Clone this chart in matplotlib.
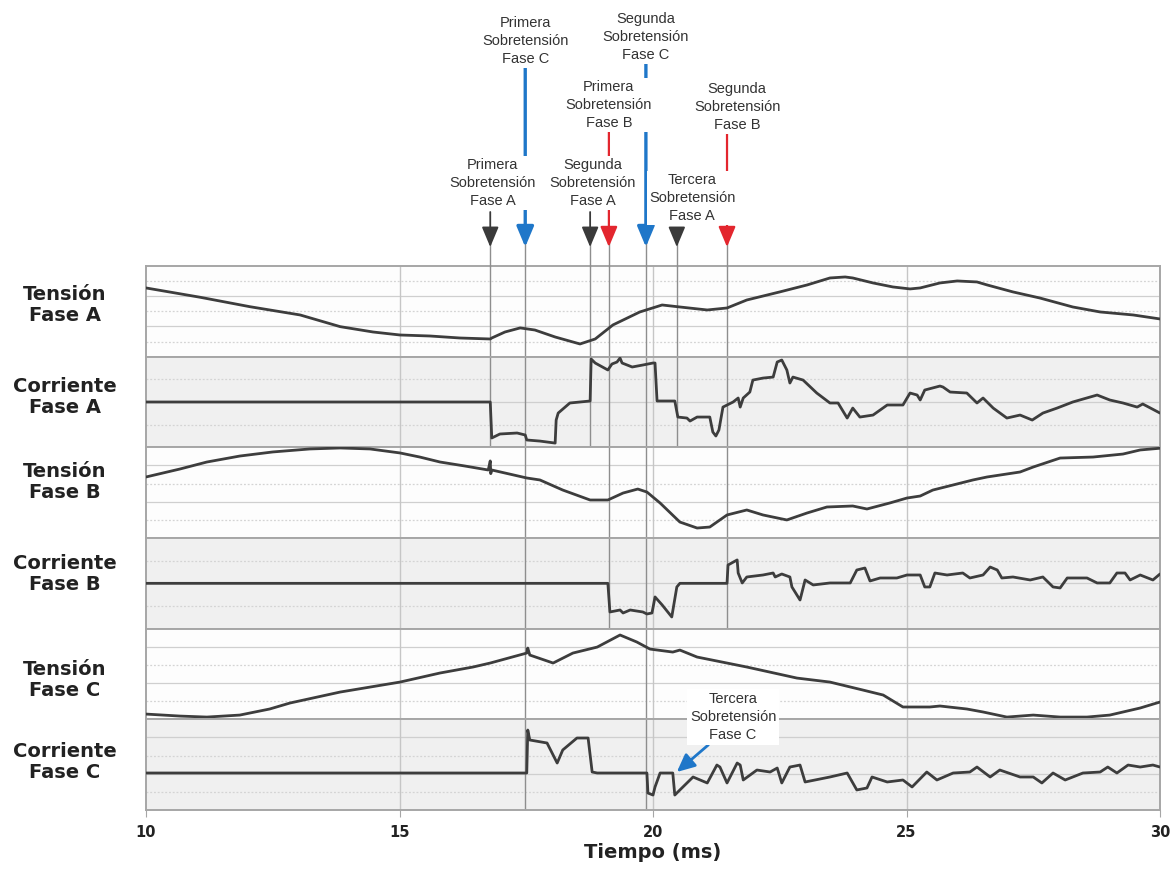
import matplotlib
matplotlib.use("Agg")
import matplotlib.pyplot as plt

# ---------------------------------------------------------------------------
# Oscillography of the three phases: time in ms, each trace given as its level
# inside its own band (0 = bottom of the band, 1 = top).
# ---------------------------------------------------------------------------
t_va = [10.00, 11.07, 12.05, 13.04, 13.83, 14.48, 15.01, 15.60, 16.19, 16.79,
        16.82, 17.08, 17.38,
        17.67, 18.07, 18.56, 18.86, 19.21, 19.74, 20.18, 20.53, 21.07, 21.46,
        21.85, 22.50, 23.04, 23.49, 23.79, 23.94, 24.34, 24.73, 25.07, 25.27,
        25.66, 26.00, 26.39, 26.59, 27.10, 27.63, 28.28, 28.82, 29.47, 30.00]
v_va = [0.758, 0.655, 0.551, 0.460, 0.331, 0.272, 0.239, 0.228, 0.206, 0.195,
        0.206, 0.272, 0.317,
        0.294, 0.217, 0.140, 0.195, 0.350, 0.493, 0.570, 0.548, 0.515, 0.537,
        0.625, 0.714, 0.791, 0.868, 0.879, 0.868, 0.813, 0.769, 0.747, 0.758,
        0.813, 0.835, 0.824, 0.791, 0.714, 0.647, 0.548, 0.493, 0.460, 0.416]

t_ia = [10.00, 16.79, 16.82, 16.98, 17.32, 17.48, 17.51, 17.77, 18.07, 18.09,
        18.13, 18.36, 18.76, 18.78, 18.86, 19.11, 19.19, 19.29, 19.35, 19.39,
        19.59, 19.80, 20.00, 20.04, 20.08, 20.43, 20.49, 20.67, 20.73, 20.87,
        21.12, 21.18, 21.24, 21.30, 21.38, 21.58, 21.68, 21.72, 21.78, 21.91,
        21.97, 22.17, 22.37, 22.45, 22.54, 22.64, 22.70, 22.76, 22.96, 23.23,
        23.49, 23.65, 23.83, 23.94, 24.08, 24.34, 24.62, 24.93, 25.07, 25.21,
        25.27, 25.36, 25.66, 25.72, 25.86, 26.19, 26.39, 26.51, 26.71, 26.98,
        27.24, 27.48, 27.69, 27.97, 28.28, 28.76, 29.01, 29.27, 29.55, 29.66,
        30.00]
i_ia = [0.500, 0.500, 0.103, 0.147, 0.158, 0.136, 0.081, 0.069, 0.047, 0.301,
        0.378, 0.489, 0.511, 0.974, 0.930, 0.853, 0.919, 0.941, 0.985, 0.930,
        0.886, 0.908, 0.930, 0.930, 0.511, 0.511, 0.334, 0.323, 0.290, 0.334,
        0.334, 0.169, 0.125, 0.191, 0.444, 0.500, 0.544, 0.444, 0.544, 0.610,
        0.742, 0.764, 0.775, 0.941, 0.963, 0.853, 0.709, 0.775, 0.742, 0.599,
        0.489, 0.489, 0.323, 0.433, 0.334, 0.356, 0.467, 0.467, 0.599, 0.577,
        0.522, 0.632, 0.676, 0.665, 0.610, 0.599, 0.489, 0.544, 0.433, 0.323,
        0.356, 0.301, 0.378, 0.433, 0.500, 0.577, 0.522, 0.489, 0.444, 0.478,
        0.378]

t_vb = [10.00, 10.67, 11.20, 11.85, 12.50, 13.23, 13.83, 14.42, 15.01, 15.40,
        15.80, 16.29, 16.75, 16.79, 16.80, 16.82,
        17.51, 17.77, 18.22, 18.76, 19.11, 19.41, 19.70, 19.88, 20.14, 20.53,
        20.87, 21.12, 21.46, 21.85, 22.17, 22.64, 23.04, 23.43, 23.94, 24.22,
        24.67, 25.01, 25.27, 25.52, 25.92, 26.31, 26.59, 27.24, 27.50, 28.03,
        28.68, 29.27, 29.61, 30.00]
v_vb = [0.673, 0.761, 0.838, 0.904, 0.949, 0.982, 0.993, 0.982, 0.938, 0.893,
        0.838, 0.794, 0.750, 0.850, 0.710, 0.750,
        0.662, 0.640, 0.529, 0.419, 0.419, 0.496, 0.540, 0.507, 0.386, 0.176,
        0.110, 0.121, 0.254, 0.309, 0.254, 0.199, 0.276, 0.342, 0.353, 0.320,
        0.386, 0.441, 0.463, 0.529, 0.585, 0.640, 0.673, 0.728, 0.783, 0.882,
        0.893, 0.926, 0.971, 0.990]

t_ib = [10.00, 19.11, 19.15, 19.35, 19.41, 19.55, 19.80, 19.88, 19.98, 20.04,
        20.18, 20.37, 20.47, 20.53, 21.46, 21.48, 21.66, 21.68, 21.76, 21.85,
        22.17, 22.37, 22.41, 22.54, 22.70, 22.74, 22.90, 23.00, 23.16, 23.49,
        23.89, 24.02, 24.18, 24.28, 24.48, 24.81, 25.01, 25.27, 25.36, 25.46,
        25.56, 25.80, 26.11, 26.25, 26.51, 26.65, 26.79, 26.88, 27.10, 27.44,
        27.69, 27.89, 28.03, 28.17, 28.56, 28.76, 29.01, 29.15, 29.31, 29.41,
        29.61, 29.86, 30.00]
i_ib = [0.500, 0.500, 0.184, 0.206, 0.173, 0.206, 0.184, 0.162, 0.173, 0.350,
        0.262, 0.129, 0.460, 0.500, 0.500, 0.702, 0.758, 0.614, 0.504, 0.570,
        0.592, 0.614, 0.570, 0.603, 0.570, 0.460, 0.316, 0.537, 0.482, 0.504,
        0.504, 0.647, 0.669, 0.526, 0.559, 0.559, 0.592, 0.592, 0.460, 0.460,
        0.614, 0.592, 0.614, 0.559, 0.592, 0.680, 0.647, 0.559, 0.570, 0.537,
        0.570, 0.460, 0.449, 0.559, 0.559, 0.504, 0.504, 0.614, 0.614, 0.537,
        0.592, 0.537, 0.603]

t_vc = [10.00, 10.67, 11.20, 11.85, 12.44, 12.84, 13.83, 15.01, 15.80, 16.45,
        16.79, 17.51, 17.53,
        17.57, 18.03, 18.42, 18.90, 19.35, 19.68, 19.94, 20.39, 20.53, 20.87,
        21.85, 22.84, 23.49, 24.14, 24.54, 24.93, 25.46, 25.66, 26.19, 26.51,
        26.98, 27.50, 28.03, 28.56, 29.01, 29.61, 30.00]
v_vc = [0.058, 0.036, 0.025, 0.047, 0.114, 0.180, 0.301, 0.411, 0.511, 0.577,
        0.621, 0.731, 0.786,
        0.709, 0.621, 0.731, 0.797, 0.930, 0.853, 0.775, 0.742, 0.764, 0.687,
        0.577, 0.455, 0.411, 0.323, 0.268, 0.136, 0.136, 0.147, 0.114, 0.081,
        0.025, 0.047, 0.025, 0.025, 0.047, 0.125, 0.191]

t_ic = [10.00, 17.51, 17.53, 17.57, 17.91, 18.11, 18.22, 18.50, 18.72, 18.80,
        18.90, 19.88, 19.90, 20.00, 20.04, 20.14, 20.39, 20.43, 20.53, 20.79,
        21.07, 21.26, 21.32, 21.46, 21.66, 21.72, 21.78, 22.05, 22.31, 22.45,
        22.54, 22.70, 22.90, 23.00, 23.49, 23.83, 24.02, 24.22, 24.32, 24.62,
        24.93, 25.11, 25.40, 25.60, 25.92, 26.25, 26.39, 26.65, 26.84, 27.24,
        27.50, 27.67, 27.89, 28.13, 28.48, 28.82, 28.97, 29.15, 29.37, 29.61,
        29.86, 30.00]
i_ic = [0.408, 0.408, 0.882, 0.772, 0.739, 0.518, 0.662, 0.794, 0.794, 0.419,
        0.408, 0.408, 0.187, 0.165, 0.254, 0.408, 0.408, 0.165, 0.221, 0.364,
        0.298, 0.496, 0.474, 0.298, 0.518, 0.496, 0.331, 0.441, 0.419, 0.463,
        0.298, 0.474, 0.496, 0.309, 0.364, 0.408, 0.221, 0.243, 0.364, 0.309,
        0.331, 0.254, 0.419, 0.331, 0.408, 0.419, 0.474, 0.364, 0.441, 0.364,
        0.364, 0.298, 0.408, 0.331, 0.408, 0.419, 0.474, 0.408, 0.496, 0.474,
        0.496, 0.474]

band_labels = ["Tensión\nFase A", "Corriente\nFase A", "Tensión\nFase B",
               "Corriente\nFase B", "Tensión\nFase C", "Corriente\nFase C"]
x_ticks = [10, 15, 20, 25, 30]

# Overvoltage events: time (ms), phase, label
event_t = [16.79, 17.48, 18.76, 19.13, 19.86, 20.47, 21.46]
event_phase = ["A", "C", "A", "B", "C", "A", "B"]
event_text = ["Primera\nSobretensión\nFase A", "Primera\nSobretensión\nFase C",
              "Segunda\nSobretensión\nFase A", "Primera\nSobretensión\nFase B",
              "Segunda\nSobretensión\nFase C", "Tercera\nSobretensión\nFase A",
              "Segunda\nSobretensión\nFase B"]
extra_t = 20.47
extra_text = "Tercera\nSobretensión\nFase C"

# ---------------------------------------------------------------------------
W, H, DPI = 1175, 869, 100
X0, X1 = 146, 1160            # plot area in pixels
TOP, BOTTOM = 266, 810
BAND = (BOTTOM - TOP) / 6
n_div = [6, 4, 5, 4, 5, 5]
band_bg = ["#fdfdfd", "#f0f0f0", "#fdfdfd", "#f0f0f0", "#fdfdfd", "#f0f0f0"]
phase_color = {"A": "#3a3a3a", "B": "#e3262e", "C": "#1f77c9"}
phase_lw = {"A": 1.3, "B": 1.6, "C": 2.4}
phase_bands = {"A": 2, "B": 4, "C": 6}
trace_color = "#3d3d3d"

fig = plt.figure(figsize=(W / DPI, H / DPI), dpi=DPI)
fig.patch.set_facecolor("white")

series = [(t_va, v_va), (t_ia, i_ia), (t_vb, v_vb),
          (t_ib, i_ib), (t_vc, v_vc), (t_ic, i_ic)]
label_y = [305, 397, 482, 574, 680, 762]

axes = []
for i, (tt, vv) in enumerate(series):
    y_top = TOP + i * BAND
    ax = fig.add_axes([X0 / W, 1 - (y_top + BAND) / H, (X1 - X0) / W, BAND / H])
    ax.set_facecolor(band_bg[i])
    ax.set_xlim(10, 30)
    ax.set_ylim(0, 1)
    for k in range(1, n_div[i]):
        if k % 2 == 0:
            ax.axhline(k / n_div[i], color="#cfcfcf", lw=0.9, zorder=1)
        else:
            ax.axhline(k / n_div[i], color="#d4d4d4", lw=0.9,
                       ls=(0, (1.5, 1.5)), zorder=1)
    for g in x_ticks[1:-1]:
        ax.axvline(g, color="#c6c6c6", lw=1.0, zorder=1)
    for te, ph in zip(event_t, event_phase):
        if i < phase_bands[ph]:
            ax.axvline(te, color="#8e8e8e", lw=1.0, zorder=2)
    ax.plot(tt, vv, color=trace_color, lw=2.0, zorder=4,
            solid_joinstyle="round", solid_capstyle="round")
    for s in ax.spines.values():
        s.set_color("#a6a6a6")
        s.set_linewidth(1.4)
    ax.set_yticks([])
    if i < 5:
        ax.set_xticks([])
    else:
        ax.set_xticks(x_ticks)
        ax.set_xticklabels([str(v) for v in x_ticks], fontsize=10.5,
                           fontweight="bold", color="#222222")
        ax.tick_params(axis="x", length=5, color="#a6a6a6", pad=6)
        ax.set_xlabel("Tiempo (ms)", fontsize=14, fontweight="bold",
                      color="#222222", labelpad=2)
    fig.text(65 / W, 1 - label_y[i] / H, band_labels[i], ha="center",
             va="center", fontsize=14, fontweight="bold", color="#222222",
             linespacing=1.1, multialignment="center")
    axes.append(ax)

# Overlay for the event markers above the bands (x in ms, y in pixels)
ppm = (X1 - X0) / 20.0
ann = fig.add_axes([0, 0, 1, 1], facecolor="none")
ann.set_xlim(10 - X0 / ppm, 10 + (W - X0) / ppm)
ann.set_ylim(H, 0)
ann.axis("off")

HEAD_TIP = 247
text_dt = [0.05, 0.0, 0.05, 0.0, 0.0, 0.3, 0.2]
text_y = [183, 41, 183, 105, 37, 198, 107]
stem_top = [212, 64, 212, 128, 64, 228, 134]
fs_ann = 10.5
for te, ph, lab, dt, ty, st in zip(event_t, event_phase, event_text,
                                  text_dt, text_y, stem_top):
    c = phase_color[ph]
    ann.plot([te, te], [HEAD_TIP - 6, TOP], color="#8e8e8e", lw=1.0, zorder=1)
    ann.annotate("", xy=(te, HEAD_TIP), xytext=(te, st),
                 arrowprops=dict(arrowstyle="-|>,head_length=0.62,head_width=0.26",
                                 color=c, lw=phase_lw[ph], shrinkA=0, shrinkB=0,
                                 mutation_scale=20),
                 zorder=2)
    ann.text(te + dt, ty, lab, ha="center", va="center", fontsize=fs_ann,
             family="Liberation Sans", color="#333333", linespacing=1.38,
             bbox=dict(fc="white", ec="none", pad=1.0), zorder=5)

ann.annotate(extra_text, xy=(extra_t, 772), xytext=(21.58, 717),
             ha="center", va="center", fontsize=fs_ann, family="Liberation Sans",
             color="#333333", linespacing=1.38,
             bbox=dict(fc="white", ec="none", pad=2),
             arrowprops=dict(arrowstyle="-|>,head_length=0.6,head_width=0.28",
                             color=phase_color["C"], lw=2.0, shrinkA=0, shrinkB=0,
                             mutation_scale=18, relpos=(0.25, 0.0)),
             zorder=5)

fig.savefig("out.png", dpi=DPI, facecolor="white")
